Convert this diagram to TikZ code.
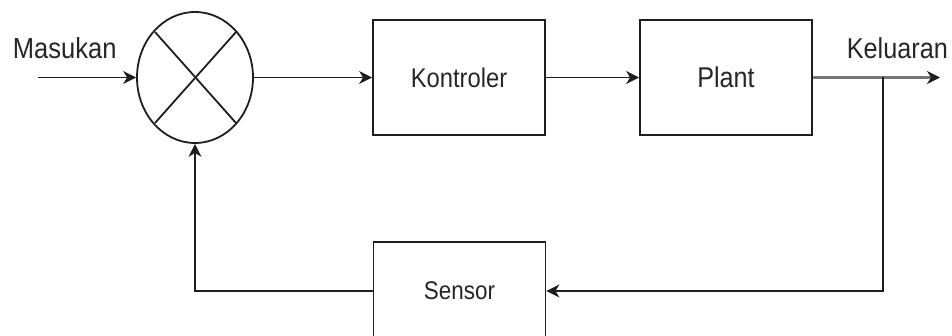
\documentclass[tikz,border=0pt]{standalone}
\usepackage{fontspec}
\setmainfont{Liberation Sans}[FakeStretch=0.88]
\usetikzlibrary{arrows.meta,shapes.geometric}
\definecolor{ink}{HTML}{1E1E1E}
\definecolor{txt}{HTML}{262626}
\definecolor{outln}{HTML}{767676}
\begin{document}
\begin{tikzpicture}[x=1pt,y=-1pt,
  wire/.style={draw=ink,line width=1.8pt,-{Stealth[length=13pt,width=13pt,inset=4pt,color=ink]}},
  plain/.style={draw=ink,line width=1.8pt},
  block/.style={draw=ink,line width=1.8pt,rectangle,minimum width=172pt,minimum height=115pt,inner sep=0pt,text=txt},
  lbl/.style={text=txt,inner sep=0pt},
  fs/.style={font=\fontsize{#1}{#1}\selectfont}]
\useasboundingbox (0,0) rectangle (952,336);
\clip (0,0) rectangle (952,336);

% summing junction
\node[ellipse,draw=ink,line width=1.8pt,minimum width=116pt,minimum height=131pt,inner sep=0pt] (sum) at (195,77.5) {};
\draw[plain] ([shift={(-40,-45.5)}]sum.center) -- ([shift={(41,45.5)}]sum.center);
\draw[plain] ([shift={(41,-45.5)}]sum.center) -- ([shift={(-40,45.5)}]sum.center);

% blocks
\node[block,fs=27] (ctrl) at (459,77.5) {Kontroler};
\node[block,fs=28.6] (plant) at (726,77.5) {Plant};
\node[block,fs=25.5,minimum height=98pt] (sens) at (459.5,291) {Sensor};

% labels
\node[lbl,fs=29] (in) at (64.7,48) {Masukan};
\node[lbl,fs=28.7] (out) at (897.3,48.3) {Keluaran};

% signal path
\coordinate (src) at (38,77.5);
\coordinate (dst) at (940,77.5);
\coordinate (tap) at (883,77.5);
\draw[wire] (src) -- (sum.west);
\draw[wire] (sum.east) -- (ctrl.west);
\draw[wire] (ctrl.east) -- (plant.west);
\draw[wire,draw=outln,line width=2.4pt] (plant.east) -- (dst);

% feedback
\draw[wire] (tap) |- (sens.east);
\draw[wire] (sens.west) -| (sum.south);
\end{tikzpicture}
\end{document}
